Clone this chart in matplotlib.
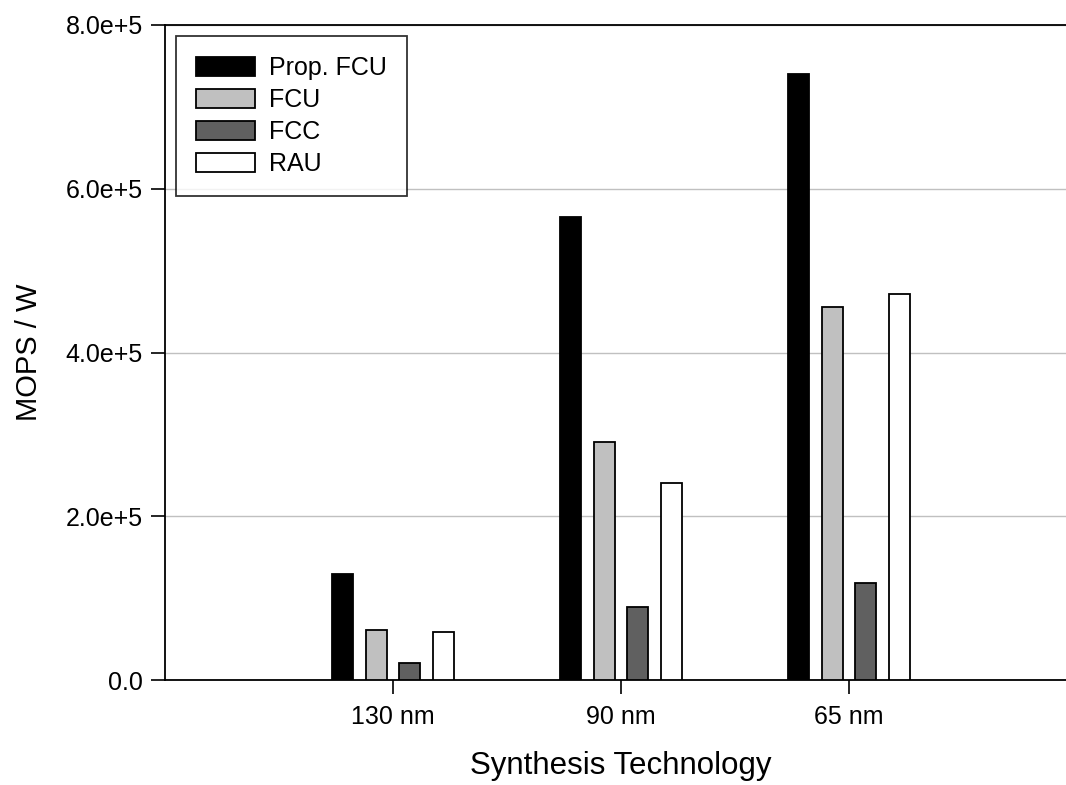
import matplotlib
matplotlib.use("Agg")
import matplotlib.pyplot as plt
import numpy as np

plt.rcParams['font.family'] = ['Liberation Sans', 'DejaVu Sans']

technologies = ["130 nm", "90 nm", "65 nm"]
series_names = ["Prop. FCU", "FCU", "FCC", "RAU"]
prop_fcu = [1.30e5, 5.65e5, 7.40e5]
fcu = [0.61e5, 2.91e5, 4.56e5]
fcc = [0.21e5, 0.89e5, 1.18e5]
rau = [0.59e5, 2.41e5, 4.71e5]
colors = ["#000000", "#c0c0c0", "#606060", "#ffffff"]

W, H = 1066, 785
fig = plt.figure(figsize=(W / 100, H / 100), dpi=100)
ax = fig.add_axes([165 / W, 1 - 680 / H, (4 * 228) / W, (680 - 25) / H])

x = np.arange(1, len(technologies) + 1)
pitch = 0.149
width = 0.092
all_series = [prop_fcu, fcu, fcc, rau]
for i, (name, vals, c) in enumerate(zip(series_names, all_series, colors)):
    offs = (i - 1.5) * pitch
    ax.bar(x + offs, vals, width=width, color=c, edgecolor="black",
           linewidth=1.3, label=name, zorder=3)

ax.set_xlim(0, 4)
ax.set_ylim(0, 8e5)
ax.set_xticks(x)
ax.set_xticklabels(technologies)
yt = [0, 2e5, 4e5, 6e5, 8e5]
ax.set_yticks(yt)
ax.set_yticklabels(["0.0", "2.0e+5", "4.0e+5", "6.0e+5", "8.0e+5"])
ax.yaxis.grid(True, color="#c0c0c0", linewidth=1.0, zorder=0)
ax.set_axisbelow(True)

for s in ["left", "top", "bottom"]:
    ax.spines[s].set_linewidth(1.3)
ax.spines["right"].set_visible(False)
ax.tick_params(axis="both", direction="out", length=10, width=1.2,
               labelsize=18, pad=6)
ax.tick_params(axis="x", pad=8)

ax.set_ylabel("MOPS / W", fontsize=21, labelpad=16)
ax.set_xlabel("Synthesis Technology", fontsize=22.5, labelpad=16)

leg = ax.legend(loc="upper left", bbox_to_anchor=((176 - 165) / 912, 1 - (36 - 25) / 655),
                fontsize=18, frameon=True, fancybox=False, handlelength=2.36,
                handleheight=0.76, labelspacing=0.32, borderpad=0.8,
                handletextpad=0.56, borderaxespad=0)
leg.get_frame().set_edgecolor("black")
leg.get_frame().set_linewidth(1.3)

fig.savefig("out.png", dpi=100)
